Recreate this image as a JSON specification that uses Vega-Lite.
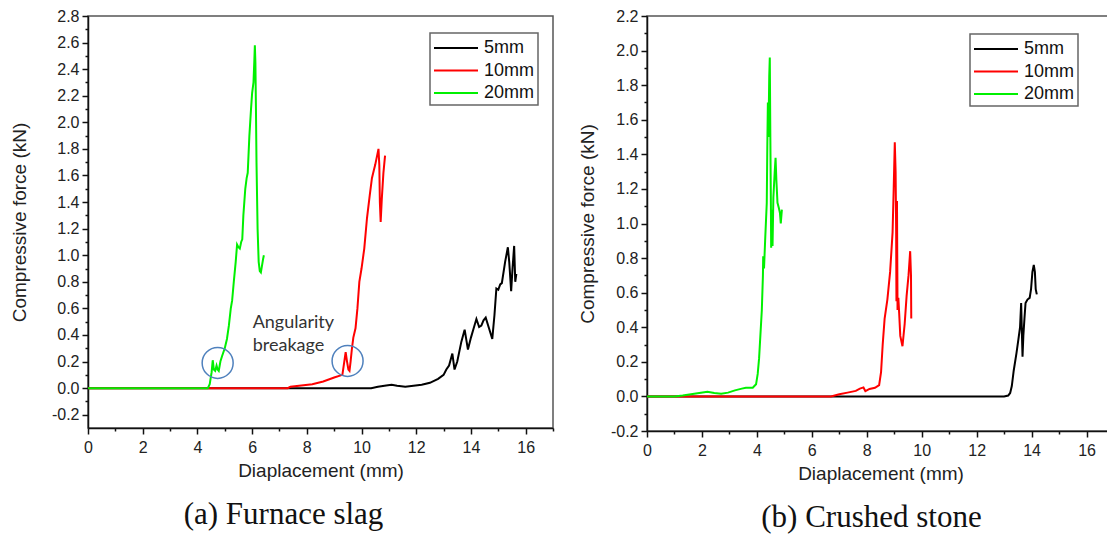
{
  "$schema": "https://vega.github.io/schema/vega-lite/v6.json",
  "background": "white",
  "padding": {"left": 9, "top": 7, "right": 0, "bottom": 0},
  "spacing": 94,
  "bounds": "flush",
  "resolve": {"scale": {"color": "independent"}, "legend": {"color": "independent"}},
  "config": {
    "view": {"stroke": "#555", "strokeWidth": 1.5},
    "axis": {
      "grid": false, "domainColor": "#111", "domainWidth": 1.5, "tickColor": "#111", "tickWidth": 1.5,
      "labelFont": "Liberation Sans", "labelFontSize": 16, "labelColor": "#222",
      "titleFont": "Liberation Sans", "titleFontSize": 19, "titleFontWeight": "normal", "titleColor": "#222",
      "labelOverlap": false, "labelFlush": false
    },
    "legend": {
      "orient": "none", "title": null, "symbolType": "M-1,0H3", "symbolSize": 484, "symbolStrokeWidth": 2,
      "labelFont": "Liberation Sans", "labelFontSize": 18, "labelColor": "#111", "labelOffset": 27,
      "strokeColor": "#666", "strokeWidth": 1.5, "fillColor": "white", "padding": 3, "rowPadding": 1.5
    },
    "title": {"font": "Liberation Serif", "fontSize": 31, "fontWeight": "normal", "color": "#111", "orient": "bottom", "anchor": "middle", "offset": 20}
  },
  "datasets": {
    "slag": [
      {"s": "5mm", "x": 0, "y": 0}, {"s": "5mm", "x": 10.35, "y": 0}, {"s": "5mm", "x": 10.6, "y": 0.01}, {"s": "5mm", "x": 10.9, "y": 0.02},
      {"s": "5mm", "x": 11.1, "y": 0.025}, {"s": "5mm", "x": 11.3, "y": 0.018}, {"s": "5mm", "x": 11.6, "y": 0.01}, {"s": "5mm", "x": 11.9, "y": 0.018},
      {"s": "5mm", "x": 12.2, "y": 0.025}, {"s": "5mm", "x": 12.5, "y": 0.04}, {"s": "5mm", "x": 12.8, "y": 0.07}, {"s": "5mm", "x": 13.0, "y": 0.1},
      {"s": "5mm", "x": 13.1, "y": 0.14}, {"s": "5mm", "x": 13.2, "y": 0.17}, {"s": "5mm", "x": 13.32, "y": 0.26}, {"s": "5mm", "x": 13.4, "y": 0.14},
      {"s": "5mm", "x": 13.5, "y": 0.2}, {"s": "5mm", "x": 13.65, "y": 0.35}, {"s": "5mm", "x": 13.77, "y": 0.44}, {"s": "5mm", "x": 13.89, "y": 0.29},
      {"s": "5mm", "x": 14.0, "y": 0.38}, {"s": "5mm", "x": 14.1, "y": 0.45}, {"s": "5mm", "x": 14.2, "y": 0.52}, {"s": "5mm", "x": 14.3, "y": 0.46},
      {"s": "5mm", "x": 14.38, "y": 0.47}, {"s": "5mm", "x": 14.46, "y": 0.51}, {"s": "5mm", "x": 14.54, "y": 0.53}, {"s": "5mm", "x": 14.66, "y": 0.45},
      {"s": "5mm", "x": 14.78, "y": 0.37}, {"s": "5mm", "x": 14.86, "y": 0.55}, {"s": "5mm", "x": 14.93, "y": 0.75}, {"s": "5mm", "x": 15.0, "y": 0.74},
      {"s": "5mm", "x": 15.07, "y": 0.78}, {"s": "5mm", "x": 15.13, "y": 0.79}, {"s": "5mm", "x": 15.25, "y": 0.95}, {"s": "5mm", "x": 15.35, "y": 1.06},
      {"s": "5mm", "x": 15.4, "y": 0.95}, {"s": "5mm", "x": 15.47, "y": 0.73}, {"s": "5mm", "x": 15.52, "y": 0.9}, {"s": "5mm", "x": 15.58, "y": 1.07},
      {"s": "5mm", "x": 15.62, "y": 0.8}, {"s": "5mm", "x": 15.66, "y": 0.86},
      {"s": "10mm", "x": 0, "y": 0}, {"s": "10mm", "x": 7.3, "y": 0}, {"s": "10mm", "x": 7.4, "y": 0.01}, {"s": "10mm", "x": 7.8, "y": 0.02},
      {"s": "10mm", "x": 8.2, "y": 0.03}, {"s": "10mm", "x": 8.6, "y": 0.05}, {"s": "10mm", "x": 9.0, "y": 0.08}, {"s": "10mm", "x": 9.3, "y": 0.1},
      {"s": "10mm", "x": 9.37, "y": 0.2}, {"s": "10mm", "x": 9.42, "y": 0.27}, {"s": "10mm", "x": 9.47, "y": 0.2}, {"s": "10mm", "x": 9.52, "y": 0.14},
      {"s": "10mm", "x": 9.56, "y": 0.13}, {"s": "10mm", "x": 9.6, "y": 0.2}, {"s": "10mm", "x": 9.65, "y": 0.3}, {"s": "10mm", "x": 9.7, "y": 0.38},
      {"s": "10mm", "x": 9.78, "y": 0.45}, {"s": "10mm", "x": 9.85, "y": 0.6}, {"s": "10mm", "x": 9.92, "y": 0.8}, {"s": "10mm", "x": 10.0, "y": 0.9},
      {"s": "10mm", "x": 10.1, "y": 1.05}, {"s": "10mm", "x": 10.2, "y": 1.28}, {"s": "10mm", "x": 10.3, "y": 1.45}, {"s": "10mm", "x": 10.38, "y": 1.58},
      {"s": "10mm", "x": 10.45, "y": 1.64}, {"s": "10mm", "x": 10.5, "y": 1.68}, {"s": "10mm", "x": 10.56, "y": 1.74}, {"s": "10mm", "x": 10.62, "y": 1.8},
      {"s": "10mm", "x": 10.65, "y": 1.68}, {"s": "10mm", "x": 10.67, "y": 1.4}, {"s": "10mm", "x": 10.7, "y": 1.25}, {"s": "10mm", "x": 10.74, "y": 1.42},
      {"s": "10mm", "x": 10.8, "y": 1.62}, {"s": "10mm", "x": 10.86, "y": 1.75},
      {"s": "20mm", "x": 0, "y": 0}, {"s": "20mm", "x": 4.38, "y": 0}, {"s": "20mm", "x": 4.45, "y": 0.03}, {"s": "20mm", "x": 4.52, "y": 0.12},
      {"s": "20mm", "x": 4.56, "y": 0.21}, {"s": "20mm", "x": 4.6, "y": 0.14}, {"s": "20mm", "x": 4.65, "y": 0.13}, {"s": "20mm", "x": 4.7, "y": 0.17},
      {"s": "20mm", "x": 4.74, "y": 0.14}, {"s": "20mm", "x": 4.78, "y": 0.13}, {"s": "20mm", "x": 4.84, "y": 0.2}, {"s": "20mm", "x": 4.9, "y": 0.24},
      {"s": "20mm", "x": 5.0, "y": 0.3}, {"s": "20mm", "x": 5.08, "y": 0.37}, {"s": "20mm", "x": 5.15, "y": 0.47}, {"s": "20mm", "x": 5.22, "y": 0.6},
      {"s": "20mm", "x": 5.27, "y": 0.66}, {"s": "20mm", "x": 5.33, "y": 0.8}, {"s": "20mm", "x": 5.4, "y": 0.95}, {"s": "20mm", "x": 5.45, "y": 1.08},
      {"s": "20mm", "x": 5.5, "y": 1.06}, {"s": "20mm", "x": 5.55, "y": 1.05}, {"s": "20mm", "x": 5.6, "y": 1.1}, {"s": "20mm", "x": 5.64, "y": 1.12},
      {"s": "20mm", "x": 5.68, "y": 1.3}, {"s": "20mm", "x": 5.75, "y": 1.5}, {"s": "20mm", "x": 5.8, "y": 1.58}, {"s": "20mm", "x": 5.84, "y": 1.62},
      {"s": "20mm", "x": 5.9, "y": 1.9}, {"s": "20mm", "x": 5.96, "y": 2.1}, {"s": "20mm", "x": 6.0, "y": 2.22}, {"s": "20mm", "x": 6.05, "y": 2.3},
      {"s": "20mm", "x": 6.08, "y": 2.46}, {"s": "20mm", "x": 6.1, "y": 2.58}, {"s": "20mm", "x": 6.12, "y": 2.45}, {"s": "20mm", "x": 6.14, "y": 2.1},
      {"s": "20mm", "x": 6.16, "y": 1.7}, {"s": "20mm", "x": 6.2, "y": 1.2}, {"s": "20mm", "x": 6.24, "y": 0.95}, {"s": "20mm", "x": 6.28, "y": 0.88},
      {"s": "20mm", "x": 6.32, "y": 0.87}, {"s": "20mm", "x": 6.36, "y": 0.92}, {"s": "20mm", "x": 6.4, "y": 0.97}, {"s": "20mm", "x": 6.43, "y": 1.0}
    ],
    "stone": [
      {"s": "5mm", "x": 0, "y": 0}, {"s": "5mm", "x": 13.0, "y": 0}, {"s": "5mm", "x": 13.15, "y": 0.005}, {"s": "5mm", "x": 13.22, "y": 0.02},
      {"s": "5mm", "x": 13.28, "y": 0.06}, {"s": "5mm", "x": 13.35, "y": 0.15}, {"s": "5mm", "x": 13.45, "y": 0.25}, {"s": "5mm", "x": 13.52, "y": 0.33},
      {"s": "5mm", "x": 13.58, "y": 0.4}, {"s": "5mm", "x": 13.62, "y": 0.54}, {"s": "5mm", "x": 13.65, "y": 0.35}, {"s": "5mm", "x": 13.67, "y": 0.23},
      {"s": "5mm", "x": 13.7, "y": 0.35}, {"s": "5mm", "x": 13.74, "y": 0.45}, {"s": "5mm", "x": 13.78, "y": 0.54}, {"s": "5mm", "x": 13.85, "y": 0.56},
      {"s": "5mm", "x": 13.93, "y": 0.57}, {"s": "5mm", "x": 13.98, "y": 0.62}, {"s": "5mm", "x": 14.03, "y": 0.72}, {"s": "5mm", "x": 14.08, "y": 0.76},
      {"s": "5mm", "x": 14.12, "y": 0.72}, {"s": "5mm", "x": 14.15, "y": 0.62}, {"s": "5mm", "x": 14.19, "y": 0.59},
      {"s": "10mm", "x": 0, "y": 0}, {"s": "10mm", "x": 6.7, "y": 0}, {"s": "10mm", "x": 7.0, "y": 0.013}, {"s": "10mm", "x": 7.3, "y": 0.022},
      {"s": "10mm", "x": 7.6, "y": 0.032}, {"s": "10mm", "x": 7.75, "y": 0.045}, {"s": "10mm", "x": 7.88, "y": 0.052}, {"s": "10mm", "x": 7.95, "y": 0.03},
      {"s": "10mm", "x": 8.1, "y": 0.043}, {"s": "10mm", "x": 8.3, "y": 0.05}, {"s": "10mm", "x": 8.45, "y": 0.065}, {"s": "10mm", "x": 8.52, "y": 0.14},
      {"s": "10mm", "x": 8.58, "y": 0.3}, {"s": "10mm", "x": 8.65, "y": 0.45}, {"s": "10mm", "x": 8.75, "y": 0.56}, {"s": "10mm", "x": 8.85, "y": 0.72},
      {"s": "10mm", "x": 8.94, "y": 0.95}, {"s": "10mm", "x": 8.98, "y": 1.2}, {"s": "10mm", "x": 9.02, "y": 1.47}, {"s": "10mm", "x": 9.05, "y": 1.3},
      {"s": "10mm", "x": 9.07, "y": 0.95}, {"s": "10mm", "x": 9.08, "y": 0.55}, {"s": "10mm", "x": 9.1, "y": 1.13}, {"s": "10mm", "x": 9.12, "y": 0.5},
      {"s": "10mm", "x": 9.15, "y": 0.57}, {"s": "10mm", "x": 9.18, "y": 0.48}, {"s": "10mm", "x": 9.22, "y": 0.35}, {"s": "10mm", "x": 9.3, "y": 0.29},
      {"s": "10mm", "x": 9.38, "y": 0.42}, {"s": "10mm", "x": 9.45, "y": 0.58}, {"s": "10mm", "x": 9.52, "y": 0.7}, {"s": "10mm", "x": 9.58, "y": 0.84},
      {"s": "10mm", "x": 9.61, "y": 0.7}, {"s": "10mm", "x": 9.62, "y": 0.45},
      {"s": "20mm", "x": 0, "y": 0}, {"s": "20mm", "x": 1.0, "y": 0}, {"s": "20mm", "x": 1.3, "y": 0.005}, {"s": "20mm", "x": 1.6, "y": 0.012},
      {"s": "20mm", "x": 1.9, "y": 0.02}, {"s": "20mm", "x": 2.2, "y": 0.027}, {"s": "20mm", "x": 2.45, "y": 0.02}, {"s": "20mm", "x": 2.7, "y": 0.015},
      {"s": "20mm", "x": 2.95, "y": 0.022}, {"s": "20mm", "x": 3.2, "y": 0.035}, {"s": "20mm", "x": 3.45, "y": 0.045}, {"s": "20mm", "x": 3.6, "y": 0.05},
      {"s": "20mm", "x": 3.85, "y": 0.05}, {"s": "20mm", "x": 3.97, "y": 0.07}, {"s": "20mm", "x": 4.03, "y": 0.13}, {"s": "20mm", "x": 4.08, "y": 0.22},
      {"s": "20mm", "x": 4.13, "y": 0.36}, {"s": "20mm", "x": 4.18, "y": 0.5}, {"s": "20mm", "x": 4.22, "y": 0.7}, {"s": "20mm", "x": 4.23, "y": 0.81},
      {"s": "20mm", "x": 4.26, "y": 0.74}, {"s": "20mm", "x": 4.3, "y": 0.9}, {"s": "20mm", "x": 4.36, "y": 1.12}, {"s": "20mm", "x": 4.38, "y": 1.45},
      {"s": "20mm", "x": 4.4, "y": 1.7}, {"s": "20mm", "x": 4.42, "y": 1.5}, {"s": "20mm", "x": 4.45, "y": 1.85}, {"s": "20mm", "x": 4.47, "y": 1.96},
      {"s": "20mm", "x": 4.49, "y": 1.5}, {"s": "20mm", "x": 4.51, "y": 1.1}, {"s": "20mm", "x": 4.52, "y": 0.86}, {"s": "20mm", "x": 4.55, "y": 1.08},
      {"s": "20mm", "x": 4.57, "y": 0.87}, {"s": "20mm", "x": 4.6, "y": 1.15}, {"s": "20mm", "x": 4.65, "y": 1.3}, {"s": "20mm", "x": 4.68, "y": 1.38},
      {"s": "20mm", "x": 4.71, "y": 1.25}, {"s": "20mm", "x": 4.75, "y": 1.12}, {"s": "20mm", "x": 4.8, "y": 1.09}, {"s": "20mm", "x": 4.84, "y": 1.06},
      {"s": "20mm", "x": 4.87, "y": 1.0}, {"s": "20mm", "x": 4.91, "y": 1.08}
    ],
    "notes": [
      {"x": 6.02, "y": 0.49, "text": "Angularity"},
      {"x": 6.02, "y": 0.32, "text": "breakage"}
    ],
    "circles": [
      {"x": 4.74, "y": 0.19},
      {"x": 9.49, "y": 0.205}
    ]
  },
  "hconcat": [
    {
      "width": 465, "height": 412,
      "title": {"text": "(a) Furnace slag", "frame": "group", "dx": -37},
      "encoding": {
        "x": {"field": "x", "type": "quantitative", "scale": {"domain": [0, 17], "nice": false, "zero": false},
          "axis": {"title": "Diaplacement (mm)", "values": [0,1,2,3,4,5,6,7,8,9,10,11,12,13,14,15,16,17],
            "labelExpr": "datum.value % 2 == 0 ? datum.value : ''", "labelOverlap": false,
            "tickSize": {"condition": {"test": "datum.value % 2 != 0", "value": 3}, "value": 6},
            "labelPadding": 5, "titlePadding": 6}},
        "y": {"field": "y", "type": "quantitative", "scale": {"domain": [-0.3, 2.8], "nice": false, "zero": false},
          "axis": {"title": "Compressive force (kN)", "labelOverlap": false,
            "values": [-0.2,-0.1,0,0.1,0.2,0.3,0.4,0.5,0.6,0.7,0.8,0.9,1.0,1.1,1.2,1.3,1.4,1.5,1.6,1.7,1.8,1.9,2.0,2.1,2.2,2.3,2.4,2.5,2.6,2.7,2.8],
            "labelExpr": "round(datum.value*10) % 2 != 0 ? '' : (datum.value < -0.01 ? '-' : '') + format(abs(datum.value), '.1f')",
            "tickSize": {"condition": {"test": "round(datum.value*10) % 2 != 0", "value": 3}, "value": 6},
            "labelPadding": 3, "titlePadding": 22}}
      },
      "layer": [
        {
          "data": {"name": "slag"},
          "mark": {"type": "line", "strokeWidth": 2, "interpolate": "linear"},
          "encoding": {
            "color": {"field": "s", "type": "nominal", "sort": null,
              "scale": {"domain": ["5mm", "10mm", "20mm"], "range": ["#000000", "#ff0000", "#00f000"]},
              "legend": {"legendX": 342, "legendY": 17}}
          }
        },
        {
          "data": {"name": "circles"},
          "mark": {"type": "point", "shape": "circle", "filled": false, "size": 961, "stroke": "#4f81bd", "strokeWidth": 1.5, "opacity": 1},
          "encoding": {}
        },
        {
          "data": {"name": "notes"},
          "mark": {"type": "text", "align": "left", "baseline": "middle", "font": "Lato", "fontSize": 18, "color": "#333"},
          "encoding": {"text": {"field": "text"}}
        }
      ]
    },
    {
      "width": 467, "height": 415,
      "title": {"text": "(b) Crushed stone", "frame": "group", "dx": -9},
      "data": {"name": "stone"},
      "mark": {"type": "line", "strokeWidth": 2, "interpolate": "linear"},
      "encoding": {
        "x": {"field": "x", "type": "quantitative", "scale": {"domain": [0, 17], "nice": false, "zero": false},
          "axis": {"title": "Diaplacement (mm)", "values": [0,1,2,3,4,5,6,7,8,9,10,11,12,13,14,15,16,17],
            "labelExpr": "datum.value % 2 == 0 ? datum.value : ''", "labelOverlap": false,
            "tickSize": {"condition": {"test": "datum.value % 2 != 0", "value": 3}, "value": 6},
            "labelPadding": 5, "titlePadding": 6}},
        "y": {"field": "y", "type": "quantitative", "scale": {"domain": [-0.2, 2.2], "nice": false, "zero": false},
          "axis": {"title": "Compressive force (kN)", "labelOverlap": false,
            "values": [-0.2,-0.1,0,0.1,0.2,0.3,0.4,0.5,0.6,0.7,0.8,0.9,1.0,1.1,1.2,1.3,1.4,1.5,1.6,1.7,1.8,1.9,2.0,2.1,2.2],
            "labelExpr": "round(datum.value*10) % 2 != 0 ? '' : (datum.value < -0.01 ? '-' : '') + format(abs(datum.value), '.1f')",
            "tickSize": {"condition": {"test": "round(datum.value*10) % 2 != 0", "value": 3}, "value": 6},
            "labelPadding": 3, "titlePadding": 13}},
        "color": {"field": "s", "type": "nominal", "sort": null,
          "scale": {"domain": ["5mm", "10mm", "20mm"], "range": ["#000000", "#ff0000", "#00f000"]},
          "legend": {"legendX": 323, "legendY": 18}}
      }
    }
  ]
}
